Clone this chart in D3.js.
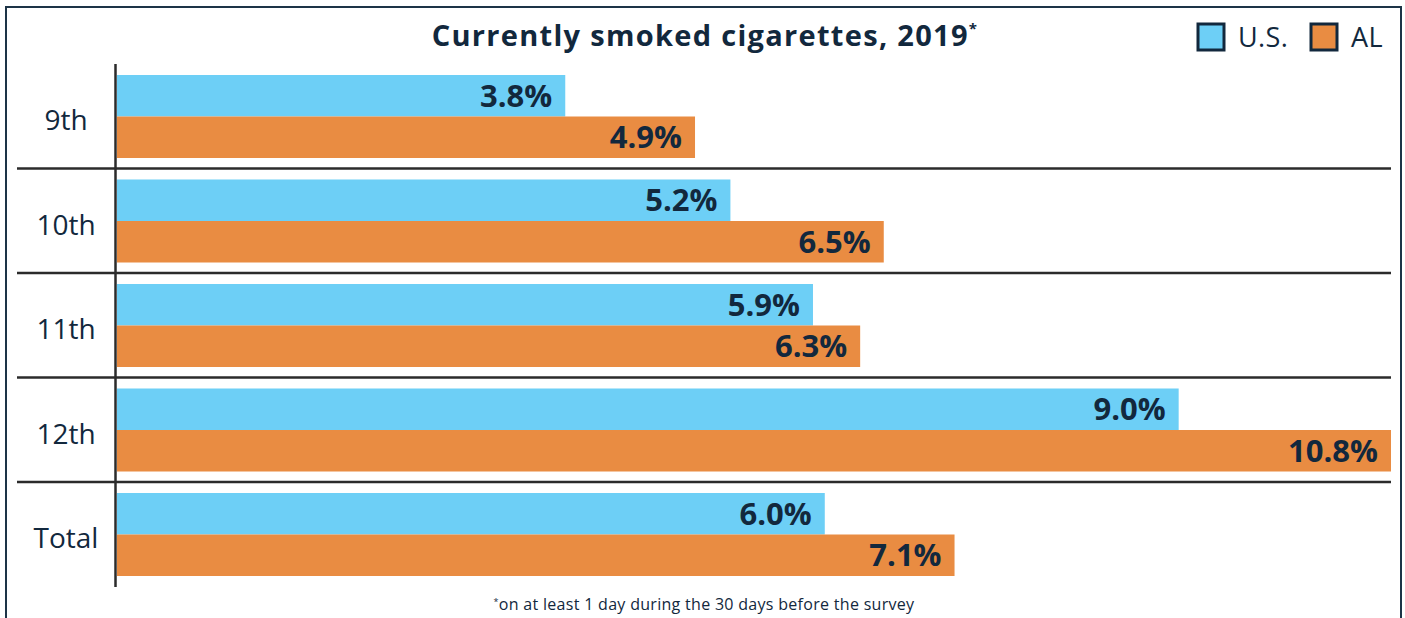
<!DOCTYPE html>
<html lang="en">
<head>
<meta charset="utf-8">
<title>Currently smoked cigarettes, 2019</title>
<script src="https://cdn.jsdelivr.net/npm/d3@7"></script>
<style>
body {
  margin: 0;
  background-color: #ffffff;
}
svg text {
  font-family: "Open Sans", "Noto Sans", sans-serif;
  fill: #12283d;
}
.frame {
  fill: none;
  stroke: #1d3447;
  stroke-width: 2px;
}
.sep, .axis-line {
  stroke: #2b2b2b;
  stroke-width: 2.5px;
}
.cat {
  font-size: 28px;
}
.val {
  font-size: 31px;
  font-weight: 700;
}
.title {
  font-size: 29px;
  font-weight: 700;
  letter-spacing: 1.3px;
}
.legend-text {
  font-size: 27px;
  letter-spacing: 0.4px;
}
.note {
  font-size: 16px;
  letter-spacing: 0.3px;
}
</style>
</head>
<body>
<svg width="1405" height="618"></svg>
<script>
// data
var grades = ["9th", "10th", "11th", "12th", "Total"];
var series = ["U.S.", "AL"];
var usValues = [3.8, 5.2, 5.9, 9.0, 6.0];
var alValues = [4.9, 6.5, 6.3, 10.8, 7.1];
var colors = ["#6dcff6", "#e98c42"];

var svg = d3.select("svg");

var data = grades.map(function(g, i) {
  return {grade: g, values: [usValues[i], alValues[i]]};
});

var x = d3.scaleLinear().domain([0, 10.8]).range([117, 1391]);
var y = d3.scaleBand().domain(grades).range([64, 586.5]).padding(0);
var y1 = d3.scaleBand().domain(series).range([11, 94]).padding(0);

// outer frame (bottom edge runs off the picture)
svg.append("path")
    .attr("class", "frame")
    .attr("d", "M6,640 L6,7 L1401,7 L1401,640");

// title
var title = svg.append("text")
    .attr("class", "title")
    .attr("x", 705)
    .attr("y", 46)
    .attr("text-anchor", "middle");
title.append("tspan").text("Currently smoked cigarettes, 2019");
title.append("tspan").attr("dy", -12).style("font-size", "15px").text("*");

// legend
var legend = svg.append("g");
var legendX = [1198, 1311];
series.forEach(function(s, i) {
  legend.append("rect")
      .attr("x", legendX[i])
      .attr("y", 24)
      .attr("width", 26)
      .attr("height", 26)
      .attr("fill", colors[i])
      .attr("stroke", "#12283d")
      .attr("stroke-width", 3);
  legend.append("text")
      .attr("class", "legend-text")
      .attr("x", legendX[i] + 40)
      .attr("y", 47)
      .text(s);
});

// separators between groups
svg.selectAll(".sep")
    .data(grades.slice(0, -1))
  .enter().append("line")
    .attr("class", "sep")
    .attr("x1", 17)
    .attr("x2", 1391)
    .attr("y1", function(d) { return y(d) + y.bandwidth(); })
    .attr("y2", function(d) { return y(d) + y.bandwidth(); });

var groups = svg.selectAll(".group")
    .data(data)
  .enter().append("g")
    .attr("class", "group")
    .attr("transform", function(d) { return "translate(0," + y(d.grade) + ")"; });

groups.selectAll("rect")
    .data(function(d) { return d.values; })
  .enter().append("rect")
    .attr("x", x(0))
    .attr("y", function(d, i) { return y1(series[i]); })
    .attr("width", function(d) { return x(d) - x(0); })
    .attr("height", y1.bandwidth())
    .attr("fill", function(d, i) { return colors[i]; });

groups.selectAll(".val")
    .data(function(d) { return d.values; })
  .enter().append("text")
    .attr("class", "val")
    .attr("x", function(d) { return x(d) - 13; })
    .attr("y", function(d, i) { return y1(series[i]) + y1.bandwidth() / 2; })
    .attr("dy", "0.36em")
    .attr("text-anchor", "end")
    .text(function(d) { return d.toFixed(1) + "%"; });

groups.append("text")
    .attr("class", "cat")
    .attr("x", 66)
    .attr("y", y.bandwidth() / 2 + 4)
    .attr("dy", "0.36em")
    .attr("text-anchor", "middle")
    .text(function(d) { return d.grade; });

// category axis line
svg.append("line")
    .attr("class", "axis-line")
    .attr("x1", 115.5)
    .attr("x2", 115.5)
    .attr("y1", 64)
    .attr("y2", 587);

// footnote
var note = svg.append("text")
    .attr("class", "note")
    .attr("x", 704)
    .attr("y", 610)
    .attr("text-anchor", "middle");
note.append("tspan").attr("dy", -5).style("font-size", "9px").text("*");
note.append("tspan").attr("dy", 5).text("on at least 1 day during the 30 days before the survey");
</script>
</body>
</html>
